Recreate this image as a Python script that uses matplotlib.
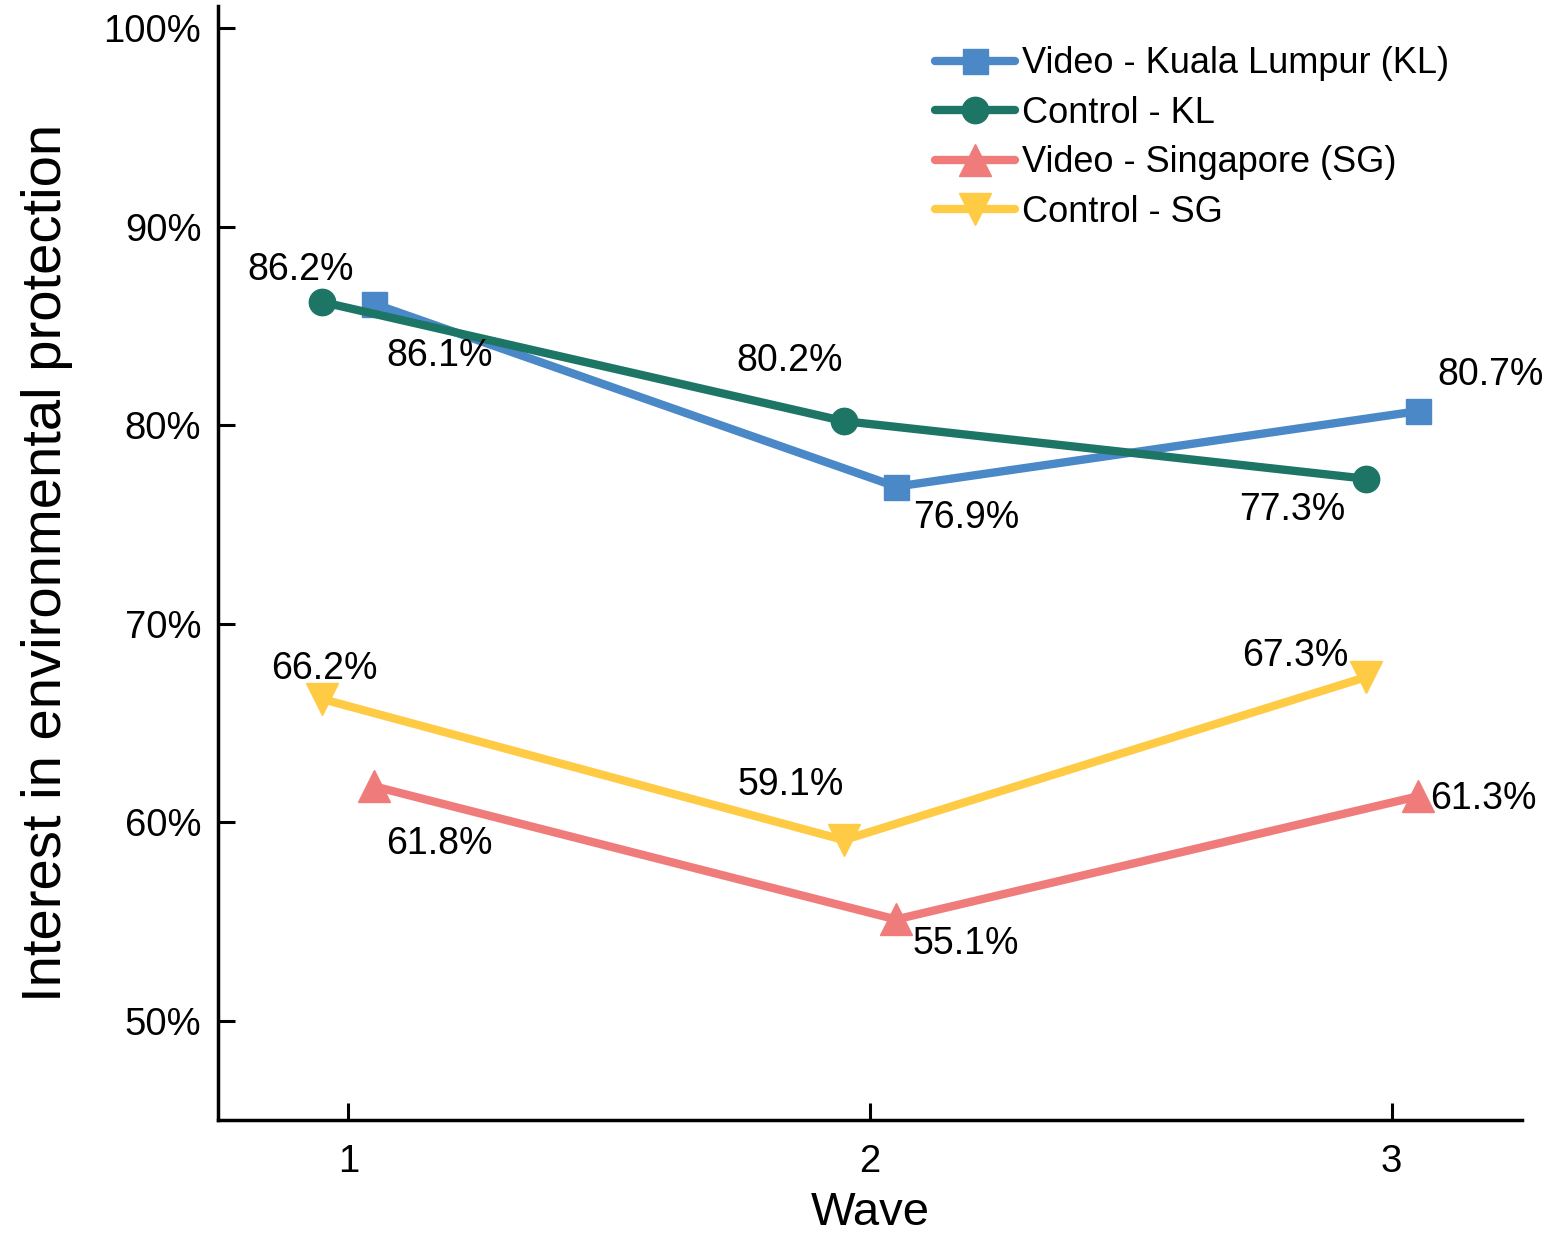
import matplotlib.pyplot as plt
from matplotlib.ticker import FuncFormatter

plt.rcParams['font.family'] = ['Liberation Sans', 'DejaVu Sans']

waves = [1, 2, 3]
video_kl = [86.1, 76.9, 80.7]
control_kl = [86.2, 80.2, 77.3]
video_sg = [61.8, 55.1, 61.3]
control_sg = [66.2, 59.1, 67.3]

# label offsets in pixels (dx, dy) for each point of each series
off_video_kl = [(65, -52), (70, -31), (73, 36)]
off_control_kl = [(-22, 32), (-54, 60), (-73, -31)]
off_video_sg = [(65, -58), (70, -25), (66, -3)]
off_control_sg = [(2, 30), (-53, 55), (-70, 21)]

fig = plt.figure(figsize=(15.68, 12.37), dpi=100)
ax = fig.add_axes([0.139, 0.0946, 0.8317, 0.9004])

lw = 6
series = [
    ("Video - Kuala Lumpur (KL)", video_kl, 0.05, "#4a88c7", "s", 18, off_video_kl),
    ("Control - KL", control_kl, -0.05, "#1d7665", "o", 19, off_control_kl),
    ("Video - Singapore (SG)", video_sg, 0.05, "#ef7c7b", "^", 23, off_video_sg),
    ("Control - SG", control_sg, -0.05, "#ffcb45", "v", 23, off_control_sg),
]

for name, vals, shift, color, mk, ms, offs in series:
    xs = [w + shift for w in waves]
    ax.plot(xs, vals, color=color, lw=lw, marker=mk, markersize=ms,
            solid_capstyle='round', label=name)
    for x, v, (dx, dy) in zip(xs, vals, offs):
        ax.annotate(f"{v:.1f}%", (x, v), xytext=(dx * 0.72, dy * 0.72),
                    textcoords='offset points', ha='center', va='center',
                    fontsize=27)

ax.set_xlim(0.75, 3.25)
ax.set_ylim(45, 101.1)
ax.set_xticks(waves)
ax.set_yticks([50, 60, 70, 80, 90, 100])
ax.yaxis.set_major_formatter(FuncFormatter(lambda v, p: f"{v:.0f}%"))

for s in ['top', 'right']:
    ax.spines[s].set_visible(False)
for s in ['left', 'bottom']:
    ax.spines[s].set_linewidth(2.5)
ax.tick_params(direction='in', length=12, width=2.2, labelsize=27.5)
ax.tick_params(axis='y', pad=12)
ax.tick_params(axis='x', pad=17)

ax.set_xlabel("Wave", fontsize=34, labelpad=8)
ax.set_ylabel("Interest in environmental protection", fontsize=40.5, labelpad=22)

ax.legend(loc='upper left', bbox_to_anchor=(0.525, 0.993), frameon=False,
          fontsize=26, handlelength=2.2, handletextpad=0.2, labelspacing=0.4)

fig.savefig("out.png", dpi=100)
